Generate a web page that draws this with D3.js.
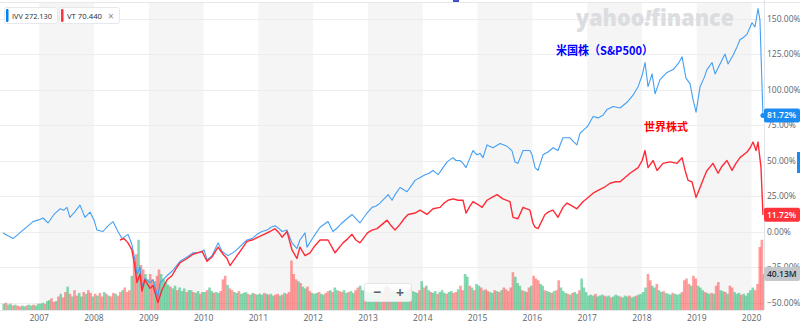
<!DOCTYPE html>
<html>
<head>
<meta charset="utf-8">
<script src="https://cdn.jsdelivr.net/npm/d3@7"></script>
<style>
  body { margin: 0; background: #fff; }
  svg { display: block; font-family: "Open Sans", Roboto, "Noto Sans", sans-serif; }
</style>
</head>
<body>
<svg id="chart" width="800" height="326"></svg>
<script>
// ---- IVV (S&P 500) cumulative change, % ----
const ivvDates = [
  "2006-05-05","2006-06-07","2006-07-11","2006-08-13","2006-09-15","2006-10-19","2006-11-21","2006-12-24",
  "2007-01-27","2007-03-01","2007-04-10","2007-05-20","2007-06-15","2007-07-05","2007-07-25","2007-08-28","2007-09-30","2007-11-02","2007-12-06",
  "2008-01-02","2008-01-21","2008-03-01","2008-04-04","2008-05-07","2008-06-09","2008-07-06","2008-08-15","2008-09-10","2008-09-30","2008-10-14","2008-11-03","2008-11-16","2008-12-06",
  "2009-01-09","2009-01-29","2009-03-02","2009-03-17","2009-05-03","2009-06-05","2009-07-28","2009-09-13","2009-10-23","2009-12-08",
  "2010-01-04","2010-01-24","2010-02-26","2010-04-07","2010-05-04","2010-06-13","2010-07-29","2010-09-07","2010-10-17","2010-11-20","2010-12-23",
  "2011-01-25","2011-02-28","2011-03-26","2011-04-22","2011-05-19","2011-06-08","2011-07-11","2011-08-13","2011-09-15","2011-10-05","2011-11-08","2011-11-21",
  "2012-01-02","2012-02-16","2012-04-09","2012-05-12","2012-06-15","2012-07-11","2012-08-13","2012-09-16","2012-10-12","2012-11-08","2012-12-25",
  "2013-01-28","2013-02-24","2013-03-22","2013-04-18","2013-05-15","2013-06-10","2013-06-30","2013-08-02","2013-09-18","2013-10-15","2013-11-10","2013-12-14",
  "2014-01-16","2014-02-12","2014-03-10","2014-04-13","2014-05-16","2014-06-12","2014-07-21","2014-08-10","2014-09-06","2014-09-26","2014-10-16","2014-11-12","2014-12-02","2014-12-28",
  "2015-01-17","2015-02-06","2015-03-05","2015-04-14","2015-05-31","2015-07-16","2015-08-18","2015-09-07","2015-09-27","2015-10-31","2015-12-16","2015-12-30",
  "2016-01-19","2016-02-08","2016-03-12","2016-04-14","2016-05-18","2016-06-20","2016-07-23","2016-09-08","2016-10-04","2016-10-24","2016-11-13","2016-12-03",
  "2017-01-03","2017-02-09","2017-03-14","2017-04-17","2017-05-13","2017-06-22","2017-08-08","2017-09-23","2017-11-02","2017-12-06",
  "2018-01-02","2018-01-21","2018-02-10","2018-03-09","2018-03-29","2018-05-01","2018-05-28","2018-06-17","2018-07-27","2018-08-29","2018-09-25","2018-10-21","2018-11-17","2018-12-07","2018-12-27",
  "2019-01-23","2019-02-18","2019-03-10","2019-04-13","2019-05-03","2019-06-05","2019-07-08","2019-07-28","2019-08-30","2019-09-26","2019-10-16","2019-11-12","2019-12-02",
  "2020-01-04","2020-01-24","2020-02-13","2020-02-26","2020-03-04","2020-03-17"
];
const ivvPct = [
  -1,-3,-5,-2,1,4,7,8,
  9.5,6,12,16,15,17,10,14,18.6,10,13.7,
  8,1,0,4,7,0,-5,-2,-9,-20,-30,-25,-39,-33,
  -36,-34,-46,-36,-31,-28,-21,-18,-15,-15,
  -13,-20,-17,-8,-14,-17,-14,-10,-6,-5,-2,
  0,1,3,4,2,0,1,-8,-12,-6,-1,-11,
  -4,3,7,0,3,6,9,12,9,6,13,
  17,18,20,23,26,22,26,31,28,32,36,38,
  40,41,43,40,45,49,52,50,50,48,45,52,57,54,
  55,52,61,59,62,60,57,49,48,57,57,54,
  45,43,54,56,59,57,66,66,63,61,69,71,
  74,81,80,82,86,88,87,91,96,102,
  110,119,102,111,97,107,110,112,114,118,123,108,104,93,84,
  102,108,114,119,111,118,125,118,124,130,135,137,139,
  147,144,157,149,125,81.72
];

// ---- VT (world stocks) cumulative change, % ----
const vtDates = [
  "2008-06-23","2008-07-19","2008-08-15","2008-09-10","2008-09-30","2008-10-14","2008-11-03","2008-11-16","2008-12-06",
  "2009-01-09","2009-01-29","2009-03-02","2009-03-30","2009-05-03","2009-06-05","2009-07-02","2009-07-28","2009-09-13","2009-10-23","2009-11-18","2009-12-22",
  "2010-01-24","2010-02-26","2010-04-07","2010-05-11","2010-06-06","2010-06-26","2010-08-12","2010-09-14","2010-10-17","2010-11-20","2010-12-30",
  "2011-02-08","2011-03-20","2011-04-22","2011-05-19","2011-06-08","2011-07-11","2011-08-13","2011-09-15","2011-10-05","2011-11-08","2011-12-11",
  "2012-01-13","2012-02-16","2012-04-09","2012-05-26","2012-07-18","2012-08-20","2012-09-16","2012-10-12","2012-11-08","2012-12-28",
  "2013-01-28","2013-03-02","2013-04-05","2013-05-08","2013-06-04","2013-06-30","2013-08-02","2013-08-29","2013-09-25","2013-11-10","2013-12-14",
  "2014-01-29","2014-03-10","2014-04-26","2014-05-23","2014-06-18","2014-07-21","2014-08-24","2014-09-26","2014-10-16","2014-11-12","2014-12-02",
  "2015-01-04","2015-01-31","2015-03-05","2015-04-07","2015-05-11","2015-06-19","2015-08-05","2015-08-25","2015-09-27","2015-10-31","2015-12-16",
  "2016-01-05","2016-01-19","2016-02-08","2016-03-25","2016-04-21","2016-05-18","2016-06-20","2016-07-23","2016-08-19","2016-09-21","2016-10-24","2016-12-03",
  "2017-01-07","2017-02-09","2017-03-14","2017-04-23","2017-06-02","2017-07-05","2017-08-08","2017-09-10","2017-10-13","2017-12-06",
  "2018-01-02","2018-01-21","2018-02-10","2018-03-16","2018-04-11","2018-05-21","2018-07-07","2018-08-22","2018-09-25","2018-10-15","2018-11-04","2018-11-30","2018-12-27",
  "2019-01-23","2019-02-18","2019-03-10","2019-04-19","2019-05-23","2019-06-18","2019-07-21","2019-08-24","2019-09-19","2019-10-16","2019-12-02","2019-12-23",
  "2020-01-11","2020-01-31","2020-02-13","2020-03-04","2020-03-17"
];
const vtPct = [
  -6,-5,-8,-13,-25,-36,-30,-42,-34,
  -40,-38,-50,-41,-34,-31,-26,-22,-19,-16,-15,-14,
  -21,-18,-11,-16,-19,-24,-17,-12,-7,-6,-4,
  -2,0,2,-1,-4,0,-13,-19,-11,-17,-15,
  -10,-6,-6,-15,-8,-5,-2,-6,-8,-1,
  1,2,5,8,4,1,5,9,12,13,15,
  12,16,17,20,22,23,22,22,13,18,21,
  19,17,22,24,26,23,21,10,9,17,15,
  6,3,2,12,14,15,10,17,20,18,16,21,
  24,27,29,31,34,35,35,38,41,45,
  50,57,45,50,43,48,49,48,52,43,36,35,24,
  31,38,43,48,41,46,50,43,48,52,56,59,
  63,57,63,45,11.72
];

// ---- volume, millions, two periods per month (1st and 16th) from the start month ----
const volumeStart = "2006-05-01";
const volumeM = [
  7,8,6,7,5,6,5,4,5,4,5,6,5,6,5,7,
  7,8,7,10,11,13,9,10,15,18,14,20,26,18,15,22,16,19,15,20,18,22,19,15,
  18,16,19,15,20,18,16,15,19,18,16,20,22,25,20,22,38,55,62,78,50,45,40,34,
  40,34,32,38,45,40,34,30,28,26,24,27,22,25,21,24,20,22,22,20,19,21,18,20,
  20,22,25,21,19,20,19,21,34,38,28,24,22,20,19,21,18,19,20,18,17,19,18,17,
  18,17,19,18,17,18,16,17,18,16,17,19,18,20,55,40,34,32,30,26,24,26,21,19,
  18,19,20,18,17,19,21,22,20,25,22,21,20,22,19,20,21,19,22,25,27,22,21,20,
  19,20,18,21,20,22,19,25,27,24,21,22,20,18,19,21,20,22,25,21,20,19,22,32,
  25,27,22,20,19,21,18,20,22,19,18,20,21,19,20,23,27,22,40,37,27,25,22,29,
  27,25,22,23,21,20,19,22,21,20,22,25,23,21,25,42,37,30,27,22,21,20,25,27,
  38,35,33,29,27,22,21,20,19,21,22,33,25,21,19,18,17,19,20,18,22,35,25,20,
  16,17,16,18,15,16,17,16,15,16,14,15,17,16,15,14,16,15,16,14,15,16,17,18,
  20,25,40,33,27,25,29,22,20,21,19,18,17,19,18,17,18,20,33,35,29,27,38,35,
  27,25,22,20,19,18,19,18,27,31,22,21,20,18,27,25,20,18,19,17,18,16,19,22,
  25,22,29,70,78,40.13
];
// G = up period, R = down period
const volumeDir =
  "GRGGRGRRGGRGGRGG" +
  "GGRGGRRGRGRRGRGRRGGRGRRG" +
  "RGRRGRGRRGRRGRRRGRRGRRGG" +
  "RRGRRGGGGRGGRGGGRGGRGGRG" +
  "GRGGRGGRRRGRRGGRGGGRGGRG" +
  "GGRGRGGRRGRGRRRRRGRGGRRG" +
  "GGRGGRRGRGGRRGGRGGRRGGRG" +
  "GGGRGGRRGRGGGRRGGGRGGGRG" +
  "RGGRGGRGGGRGGRRGRRGGRGRG" +
  "GRGRRGGRGRGRRRRRGGGRGRRG" +
  "RRRGGRGGRGRRGGGRGRGGRGGG" +
  "GGGRGGGRGGRGGGRGGGRGGRGG" +
  "GGRRGGRGGRGGGRGGGRRRRGRR" +
  "GGGRGGRGRRGGRGRRGGGRGGGG" +
  "GRRRRR";

const pctTicks = [-50, -25, 0, 25, 50, 75, 100, 125, 150];
const yearTicks = [2007, 2008, 2009, 2010, 2011, 2012, 2013, 2014, 2015, 2016, 2017, 2018, 2019, 2020];
const legendSymbols = ["IVV", "VT"];
const legendPrices = ["272.130", "70.440"];
const seriesNames = ["米国株（S&P500）", "世界株式"];
const lastIvv = 81.72, lastVt = 11.72, lastVolume = 40.13;

// ---- layout ----
const plotLeft = 0, plotRight = 764, plotTop = 3, plotBottom = 310;
const BLUE = "#439ff4", RED = "#ff2b36";
const parse = d3.timeParse("%Y-%m-%d");

const svg = d3.select("#chart");
const x = d3.scaleTime()
  .domain([parse("2006-04-15"), parse("2020-03-24")])
  .range([plotLeft, plotRight]);
const y = d3.scaleLinear().domain([-50, 150]).range([302.5, 18.5]);
const vy = d3.scaleLinear().domain([0, 100]).range([plotBottom, 220]);

svg.append("defs").append("clipPath").attr("id", "plotClip")
  .append("rect").attr("x", plotLeft).attr("y", plotTop)
  .attr("width", plotRight - plotLeft).attr("height", plotBottom - plotTop);

// alternating year bands
const bandYears = yearTicks.filter(yr => yr % 2 === 1);
svg.append("g").selectAll("rect").data(bandYears).join("rect")
  .attr("x", d => x(new Date(d, 0, 1)))
  .attr("width", d => x(new Date(d + 1, 0, 1)) - x(new Date(d, 0, 1)))
  .attr("y", plotTop).attr("height", plotBottom - plotTop)
  .attr("fill", "#f5f5f5");

// top border
svg.append("line").attr("x1", 0).attr("x2", 800).attr("y1", 2.5).attr("y2", 2.5)
  .attr("stroke", "#e6e8eb");

// horizontal grid
svg.append("g").selectAll("line").data(pctTicks).join("line")
  .attr("x1", plotLeft).attr("x2", plotRight)
  .attr("y1", d => Math.round(y(d)) + 0.5).attr("y2", d => Math.round(y(d)) + 0.5)
  .attr("stroke", "#ededed");

// watermark
const wm = svg.append("text")
  .attr("x", 576).attr("y", 26)
  .attr("font-family", "'Open Sans', sans-serif")
  .attr("font-size", 22).attr("font-weight", 800)
  .attr("fill", "#dcdde1")
  .attr("textLength", 158).attr("lengthAdjust", "spacingAndGlyphs");
wm.append("tspan").text("yahoo");
wm.append("tspan").attr("font-style", "italic").text("!");
wm.append("tspan").text("finance");

// volume bars
const vStart = parse(volumeStart);
const volData = volumeM.map((v, i) => ({
  date: d3.timeDay.offset(d3.timeMonth.offset(vStart, Math.floor(i / 2)), (i % 2) * 15),
  v, up: volumeDir[i] === "G"
}));
const plot = svg.append("g").attr("clip-path", "url(#plotClip)");
plot.append("g").selectAll("rect").data(volData).join("rect")
  .attr("x", d => x(d.date))
  .attr("width", 2.6)
  .attr("y", d => vy(d.v))
  .attr("height", d => vy(0) - vy(d.v))
  .attr("fill", d => d.up ? "#22b870" : "#ff3d3d")
  .attr("fill-opacity", d => d.up ? 0.55 : 0.5);

// lines
const line = d3.line().x(d => x(d.date)).y(d => y(d.v));
const ivv = ivvDates.map((d, i) => ({ date: parse(d), v: ivvPct[i] }));
const vt = vtDates.map((d, i) => ({ date: parse(d), v: vtPct[i] }));
plot.append("path").datum(ivv).attr("d", line)
  .attr("fill", "none").attr("stroke", BLUE).attr("stroke-width", 1.1)
  .attr("stroke-linejoin", "round");
plot.append("path").datum(vt).attr("d", line)
  .attr("fill", "none").attr("stroke", RED).attr("stroke-width", 1.4)
  .attr("stroke-linejoin", "round");

// bottom baseline and right border
svg.append("line").attr("x1", plotLeft).attr("x2", plotRight)
  .attr("y1", plotBottom + 0.5).attr("y2", plotBottom + 0.5).attr("stroke", "#e6e8eb");
svg.append("line").attr("x1", plotRight + 0.5).attr("x2", plotRight + 0.5)
  .attr("y1", 0).attr("y2", plotBottom).attr("stroke", "#e0e3e7");

// right axis
svg.append("g").selectAll("text").data(pctTicks).join("text")
  .attr("x", 767).attr("y", d => y(d) + 3)
  .attr("font-size", 8.5).attr("fill", "#5b636a")
  .text(d => d3.format(".2f")(d) + "%");

// x axis
svg.append("g").selectAll("text").data(yearTicks).join("text")
  .attr("x", d => x(new Date(d, 0, 1))).attr("y", 321)
  .attr("text-anchor", "middle").attr("font-size", 8.5).attr("fill", "#5b636a")
  .text(d => d);

// series labels
svg.append("text").attr("x", 556).attr("y", 55)
  .attr("font-family", "'Noto Sans CJK JP', sans-serif")
  .attr("font-size", 12).attr("font-weight", 700).attr("fill", "#0000ff")
  .attr("textLength", 97).attr("lengthAdjust", "spacingAndGlyphs")
  .text(seriesNames[0]);
svg.append("text").attr("x", 644).attr("y", 131)
  .attr("font-family", "'Noto Sans CJK JP', sans-serif")
  .attr("font-size", 11).attr("font-weight", 700).attr("fill", "#ff0000")
  .text(seriesNames[1]);

// legend chips
const chipX = [4, 59], chipW = [53, 60], chipColor = ["#0081f2", "#ff333a"], chipTextW = [40, 35];
legendSymbols.forEach((s, i) => {
  const g = svg.append("g");
  g.append("rect").attr("x", chipX[i] + 0.5).attr("y", 7.5).attr("width", chipW[i]).attr("height", 16)
    .attr("rx", 2).attr("fill", "#fff").attr("stroke", "#e6e8eb");
  g.append("rect").attr("x", chipX[i] + 2).attr("y", 9).attr("width", 2.5).attr("height", 13)
    .attr("rx", 1).attr("fill", chipColor[i]);
  g.append("text").attr("x", chipX[i] + 8).attr("y", 19)
    .attr("font-size", 8).attr("fill", "#232a31")
    .attr("textLength", chipTextW[i]).attr("lengthAdjust", "spacingAndGlyphs")
    .text(s + " " + legendPrices[i]);
  if (i === 1) {
    g.append("text").attr("x", chipX[i] + 49).attr("y", 19.5)
      .attr("font-size", 10).attr("fill", "#828c93").text("×");
  }
});

// zoom control
const zc = svg.append("g");
zc.append("rect").attr("x", 364.5).attr("y", 283.5).attr("width", 47).attr("height", 18)
  .attr("rx", 2).attr("fill", "#fff").attr("fill-opacity", 0.85).attr("stroke", "#e0e3e7");
zc.append("text").attr("x", 377).attr("y", 297).attr("text-anchor", "middle")
  .attr("font-size", 14).attr("font-weight", 700).attr("fill", "#5b636a").text("−");
zc.append("text").attr("x", 400).attr("y", 297.5).attr("text-anchor", "middle")
  .attr("font-size", 14).attr("font-weight", 700).attr("fill", "#5b636a").text("+");

// value badges on the right axis
function badge(cy, text, bg, fg) {
  svg.append("rect").attr("x", 764).attr("y", cy - 7).attr("width", 36).attr("height", 14)
    .attr("rx", 2).attr("fill", bg);
  svg.append("text").attr("x", 767).attr("y", cy + 3)
    .attr("font-size", 8.5).attr("font-weight", 600).attr("fill", fg).text(text);
}
badge(vy(lastVolume), d3.format(".2f")(lastVolume) + "M", "#c4c8cd", "#232a31");
badge(y(lastVt), d3.format(".2f")(lastVt) + "%", "#ff333a", "#fff");
badge(y(lastIvv), d3.format(".2f")(lastIvv) + "%", "#1a8bf0", "#fff");
svg.append("circle").attr("cx", x(parse(ivvDates[ivvDates.length - 1]))).attr("cy", y(lastIvv))
  .attr("r", 2.5).attr("fill", "#1a8bf0");

// scroll indicator at the right edge
svg.append("rect").attr("x", 797).attr("y", 152).attr("width", 3).attr("height", 21).attr("fill", "#1a8bf0");
svg.append("rect").attr("x", 453).attr("y", 0).attr("width", 6).attr("height", 2).attr("fill", "#3f51d0");
</script>
</body>
</html>
